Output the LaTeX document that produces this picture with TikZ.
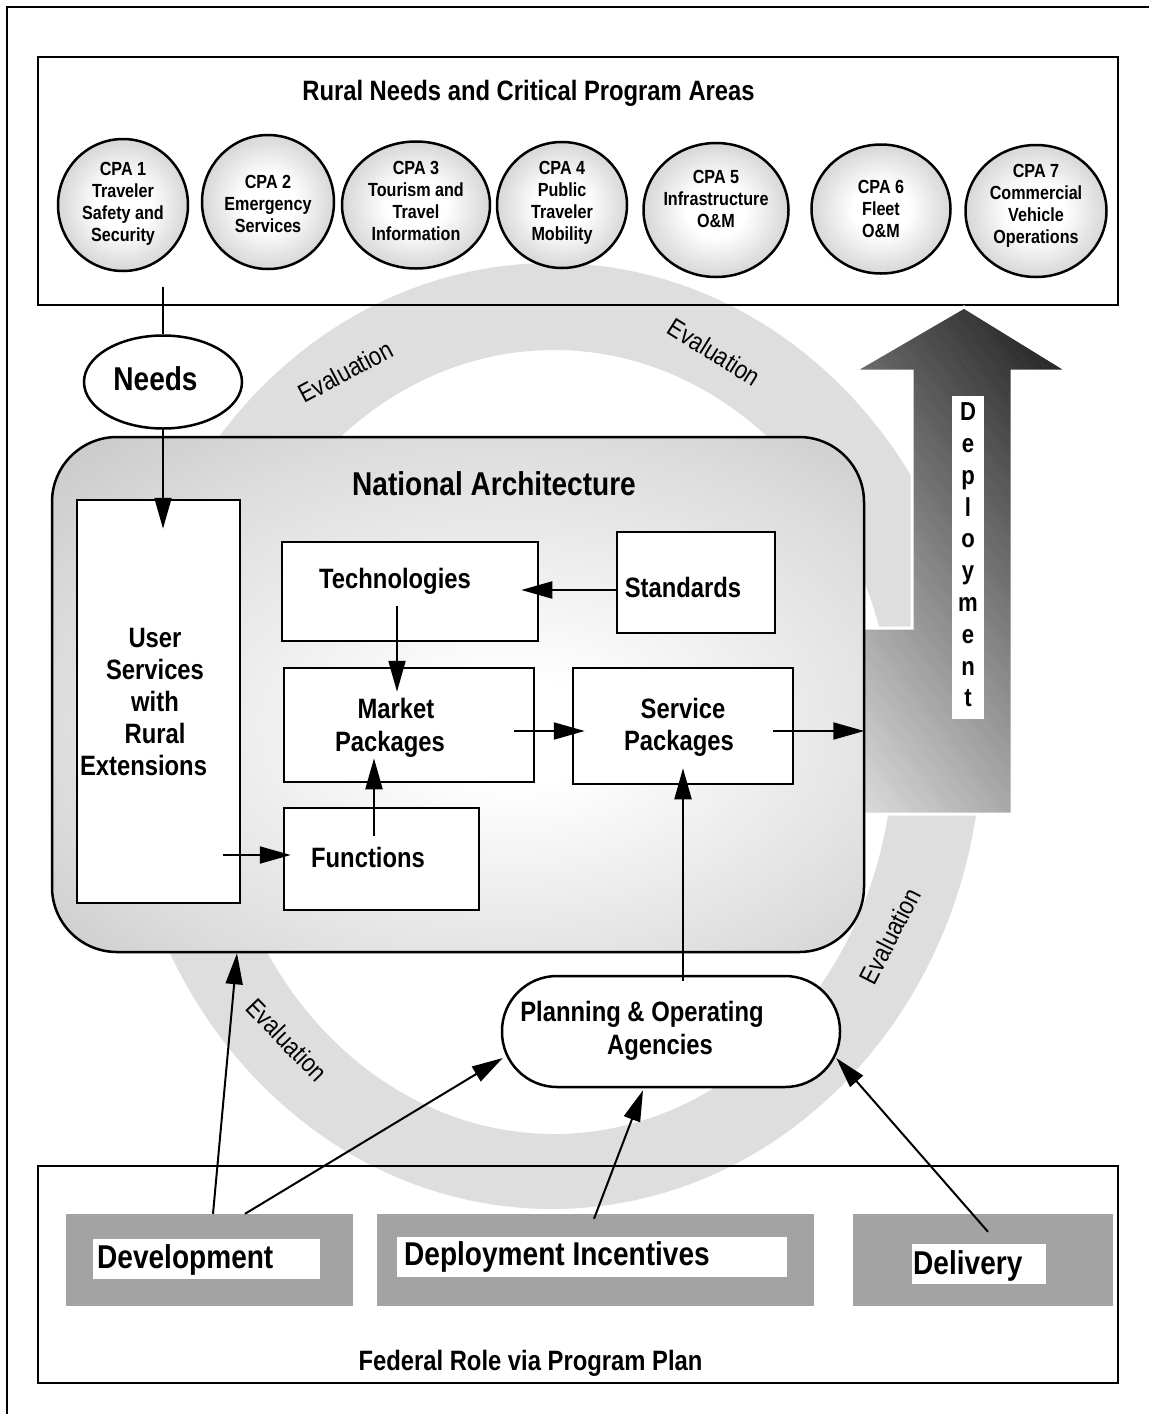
\documentclass[tikz,border=0pt]{standalone}
\usepackage{fontspec}
\setmainfont{Liberation Sans}[FakeStretch=0.85]
\usetikzlibrary{arrows.meta,shapes.geometric}
\pgfdeclareradialshading{nashade}{\pgfpoint{4bp}{-4bp}}{color(0bp)=(white); color(5bp)=(white); color(28bp)=(black!14); color(50bp)=(black!31); color(72bp)=(black!40)}
\pgfdeclareradialshading{cpashade}{\pgfpoint{0bp}{0bp}}{color(0bp)=(white); color(10bp)=(white); color(50bp)=(black!42)}
\begin{document}
\begin{tikzpicture}[x=1pt,y=1pt,
 frame/.style={draw, line width=2.5pt, inner sep=0pt},
 wbox/.style={draw, fill=white, line width=2.5pt, inner sep=0pt},
 cpa/.style={draw, ellipse, line width=2.5pt, shade, shading=cpashade, inner sep=0pt},
 txt/.style={inner sep=0pt, font=\bfseries\fontsize{28}{32}\selectfont, align=center},
 big/.style={inner sep=0pt, font=\bfseries\fontsize{33}{38}\selectfont},
 small/.style={inner sep=0pt, font=\bfseries\fontsize{19}{22}\selectfont, align=center},
 evl/.style={inner sep=0pt, font=\fontsize{26}{30}\selectfont},
 arr/.style={line width=2pt, -{Triangle[length=31pt,width=17pt]}},
 conn/.style={line width=2pt},
 grayrect/.style={fill=black!36, inner sep=0pt},
 whiterect/.style={fill=white, inner sep=0pt}]
\useasboundingbox (0,0) rectangle (1149,-1414);
\fill[white] (0,0) rectangle (1149,-1414);
% evaluation ring
\fill[black!13, even odd rule] (552,-736) ellipse [x radius=430, y radius=473] (554,-742) ellipse [x radius=340, y radius=392];
% frames
\node[frame, minimum width=1080pt, minimum height=248pt] (topbox) at (578,-181) {};
\node[frame, minimum width=1080pt, minimum height=217pt] (fedbox) at (578,-1274.5) {};
\draw[line width=2.5pt] (7,-1414) -- (7,-7) -- (1149,-7);
% deployment arrow
\begin{scope}
\clip (858,-628) -- (912,-628) -- (912,-371) -- (854,-371) -- (964,-307) -- (1068,-371) -- (1012,-371) -- (1012,-814) -- (858,-814) -- cycle;
\begin{scope}[shift={(864,-814)}, rotate=37]
\fill[black!15] (-400,-700) rectangle (0.5,700);
\fill[black!85] (429,-700) rectangle (900,700);
\foreach \i in {0,...,99}{\pgfmathtruncatemacro\c{15+70*\i/99}\fill[black!\c] (\i*4.29,-700) rectangle (\i*4.29+4.6,700);}
\end{scope}
\end{scope}
\draw[white, line width=3pt] (858,-628) -- (912,-628) -- (912,-371) -- (854,-371) -- (964,-307) -- (1068,-371) -- (1012,-371) -- (1012,-814) -- (858,-814) -- cycle;
\node[fill=white, minimum width=32pt, minimum height=323pt, inner sep=0pt] (depstrip) at (968,-557.5) {};
\node[inner sep=0pt, align=center, font=\bfseries\fontsize{26}{31.8}\selectfont] (deptxt) at (968,-555) {D\\e\\p\\l\\o\\y\\m\\e\\n\\t};
% national architecture
\node[draw, line width=2.5pt, rounded corners=65pt, shade, shading=nashade, minimum width=812pt, minimum height=515pt, inner sep=0pt] (na) at (458,-694.5) {};
\node[big, anchor=base] (natitle) at (494,-495) {National Architecture};
\node[wbox, minimum width=163pt, minimum height=403pt] (usr) at (158.5,-701.5) {};
\node[txt] (usrtxt) at (155,-702) {User\\Services\\with\\Rural\\\hspace*{-23pt}Extensions};
\node[wbox, minimum width=256pt, minimum height=99pt] (tech) at (410,-591.5) {};
\node[txt, anchor=base] (techtxt) at (395,-588) {Technologies};
\node[wbox, minimum width=158pt, minimum height=101pt] (std) at (696,-582.5) {};
\node[txt, anchor=base] (stdtxt) at (683,-597) {Standards};
\node[wbox, minimum width=250pt, minimum height=114pt] (mkt) at (409,-725) {};
\node[txt, anchor=base] (mkttxta) at (396,-718) {Market};
\node[txt, anchor=base] (mkttxtb) at (390,-751) {Packages};
\node[wbox, minimum width=195pt, minimum height=102pt] (fun) at (381.5,-859) {};
\node[txt, anchor=base] (funtxt) at (368,-867) {Functions};
\node[wbox, minimum width=220pt, minimum height=116pt] (svc) at (683,-726) {};
\node[txt, anchor=base] (svctxta) at (683,-718) {Service};
\node[txt, anchor=base] (svctxtb) at (679,-750) {Packages};
% top area
\node[txt, anchor=base] (title) at (528.5,-100) {Rural Needs and Critical Program Areas};
\node[cpa, minimum width=130pt, minimum height=132pt] (c1) at (123,-205) {};
\node[small] (t1) at (123,-204) {CPA 1\\Traveler\\Safety and\\Security};
\node[cpa, minimum width=132pt, minimum height=134pt] (c2) at (268,-202) {};
\node[small] (t2) at (268,-204) {CPA 2\\Emergency\\Services};
\node[cpa, minimum width=148pt, minimum height=127pt] (c3) at (416,-205) {};
\node[small] (t3) at (416,-201) {CPA 3\\Tourism and\\Travel\\Information};
\node[cpa, minimum width=130pt, minimum height=126pt] (c4) at (562,-205) {};
\node[small] (t4) at (562,-203) {CPA 4\\Public\\Traveler\\Mobility};
\node[cpa, minimum width=145pt, minimum height=134pt] (c5) at (716,-210) {};
\node[small] (t5) at (716,-199) {CPA 5\\Infrastructure\\O\&M};
\node[cpa, minimum width=139pt, minimum height=129pt] (c6) at (881,-209) {};
\node[small] (t6) at (881,-209) {CPA 6\\Fleet\\O\&M};
\node[cpa, minimum width=141pt, minimum height=132pt] (c7) at (1036,-211) {};
\node[small] (t7) at (1036,-206) {CPA 7\\Commercial\\Vehicle\\Operations};
% needs
\coordinate (needsrc) at (163,-287);
\node[draw, ellipse, fill=white, line width=2.5pt, minimum width=158pt, minimum height=93pt, inner sep=0pt] (needs) at (163,-382) {};
\node[big, anchor=base] (needstxt) at (155.5,-390) {Needs};
% planning
\node[draw, fill=white, line width=2.5pt, rounded corners=55pt, minimum width=338pt, minimum height=111pt, inner sep=0pt] (plan) at (671,-1031.5) {};
\node[txt, anchor=base] (plantxta) at (642,-1021) {Planning \& Operating};
\node[txt, anchor=base] (plantxtb) at (660,-1054) {Agencies};
% bottom
\node[grayrect, minimum width=287pt, minimum height=92pt] (devg) at (209.5,-1260) {};
\node[whiterect, minimum width=227pt, minimum height=40pt] (devw) at (206.5,-1259) {};
\node[big, anchor=base west] (devt) at (97,-1268) {Development};
\node[grayrect, minimum width=437pt, minimum height=92pt] (depg) at (595.5,-1260) {};
\node[whiterect, minimum width=390pt, minimum height=40pt] (depw) at (592,-1257) {};
\node[big, anchor=base west] (dept) at (404,-1265) {Deployment Incentives};
\node[grayrect, minimum width=260pt, minimum height=92pt] (delg) at (983,-1260) {};
\node[whiterect, minimum width=134pt, minimum height=40pt] (delw) at (979,-1264) {};
\node[big, anchor=base west] (delt) at (913,-1274) {Delivery};
\node[txt, anchor=base] (fedt) at (530.5,-1370) {Federal Role via Program Plan};
% evaluation labels
\node[evl, rotate=28] (ev1) at (345.5,-371.5) {Evaluation};
\node[evl, rotate=-32] (ev2) at (714.5,-352) {Evaluation};
\node[evl, rotate=63] (ev3) at (890,-936) {Evaluation};
\node[evl, rotate=-46] (ev4) at (287,-1040) {Evaluation};
% connectors
\draw[conn] (needsrc) -- (needs.north);
\draw[arr] (needs.south) -- ([yshift=-30pt]usr.north -| needs.south);
\draw[arr] ([yshift=-7.5pt]std.west) -- ([xshift=-18pt,yshift=1.5pt]tech.east);
\draw[arr] ([xshift=-13pt,yshift=36pt]tech.south) -- ([xshift=-12pt,yshift=-25pt]mkt.north);
\draw[arr] ([xshift=-7.5pt,yshift=-29pt]fun.north) -- ([xshift=-35pt,yshift=25pt]mkt.south);
\draw[arr] ([xshift=-18pt,yshift=-153.5pt]usr.east) -- ([xshift=8pt,yshift=4pt]fun.west);
\draw[arr] ([xshift=-21pt,yshift=-6pt]mkt.east) -- ([xshift=13pt,yshift=-5pt]svc.west);
\draw[arr] ([xshift=-21pt,yshift=-5pt]svc.east) -- ([xshift=-1pt,yshift=-36.5pt]na.east);
\draw[arr] ([xshift=12pt,yshift=-6pt]plan.north) -- ([yshift=17pt]svc.south);
\draw[arr] ([xshift=3.5pt]devg.north) -- ([xshift=-221pt]na.south);
\draw[arr] ([xshift=35.5pt]devg.north) -- ([xshift=2pt,yshift=-26.5pt]plan.west);
\draw[arr] ([xshift=-1.5pt,yshift=-5pt]depg.north) -- ([xshift=-28pt,yshift=-2pt]plan.south);
\draw[arr] ([xshift=5pt,yshift=-18pt]delg.north) -- ([xshift=-5pt,yshift=-26.5pt]plan.east);
\end{tikzpicture}
\end{document}
